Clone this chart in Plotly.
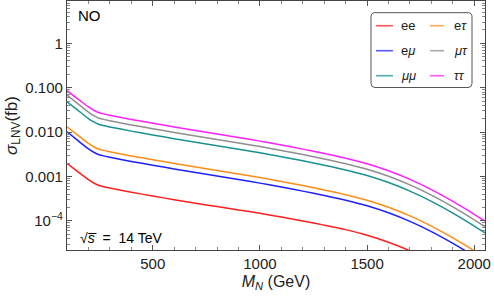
import plotly.graph_objects as go

# ---- data ----
M_N = [100, 150, 200, 225, 250, 275, 300, 400, 500, 600, 700, 800, 900, 1000,
       1100, 1200, 1300, 1400, 1500, 1600, 1700, 1800, 1900, 2000, 2050]

sigma_tautau = [0.08558, 0.05623, 0.03694, 0.03112, 0.02734, 0.02543, 0.02402, 0.01932, 0.01586, 0.01309,
                0.01086, 0.009061, 0.007556, 0.006270, 0.005124, 0.004141, 0.003296, 0.002584, 0.001932,
                0.001344, 0.000860, 0.000507, 0.000275, 0.0001408, 0.0000984]
sigma_mutau = [0.06846, 0.04386, 0.02807, 0.02340, 0.02056, 0.01912, 0.01806, 0.01453, 0.01193, 0.00984,
               0.00817, 0.006814, 0.005682, 0.004715, 0.003853, 0.003114, 0.002479, 0.001943, 0.001453,
               0.001011, 0.000647, 0.000381, 0.000207, 0.0001059, 0.0000740]
sigma_mumu = [0.04835, 0.03126, 0.02024, 0.01696, 0.01490, 0.01386, 0.01309, 0.01053, 0.00864, 0.00713,
              0.00592, 0.004938, 0.004118, 0.003417, 0.002793, 0.002257, 0.001796, 0.001408, 0.001053,
              0.000732, 0.000469, 0.000276, 0.000150, 0.0000767, 0.0000536]
sigma_etau = [0.01323, 0.008558, 0.005567, 0.004690, 0.004120, 0.003832, 0.003620, 0.002912, 0.002390, 0.001973,
              0.001637, 0.001365, 0.001139, 0.000945, 0.000772, 0.000624, 0.000497, 0.000389, 0.000291,
              0.0002025, 0.0001296, 0.0000764, 0.0000414, 0.0000212, 0.0000148]
sigma_emu = [0.01021, 0.006495, 0.004185, 0.003526, 0.003098, 0.002881, 0.002721, 0.002189, 0.001797, 0.001483,
             0.001230, 0.001027, 0.000856, 0.000710, 0.000581, 0.000469, 0.000373, 0.000293, 0.000219,
             0.0001523, 0.0000974, 0.0000574, 0.0000312, 0.0000160, 0.0000111]
sigma_ee = [0.001983, 0.001289, 0.000847, 0.000714, 0.000627, 0.000583, 0.000551, 0.000443, 0.000364, 0.000300,
            0.000249, 0.000210, 0.0001769, 0.0001483, 0.0001225, 0.0001000, 0.0000804, 0.0000637, 0.0000476,
            0.0000331, 0.0000212, 0.0000125, 0.0000068, 0.0000035, 0.0000024]

series_names = ["ee", "e<i>μ</i>", "<i>μμ</i>", "e<i>τ</i>", "<i>μτ</i>", "<i>ττ</i>"]
series_values = [sigma_ee, sigma_emu, sigma_mumu, sigma_etau, sigma_mutau, sigma_tautau]
series_colors = ["#ff1f1f", "#1f1fff", "#1a9191", "#ff8c1a", "#8f8f8f", "#ff1fff"]

y_tickvals = [1e-4, 1e-3, 1e-2, 1e-1, 1]
y_ticktext = ["10<sup>−4</sup>", "0.001", "0.010", "0.100", "1"]
x_tickvals = [500, 1000, 1500, 2000]

FONT = "Liberation Sans, Arial, sans-serif"

fig = go.Figure()
for name, vals, col in zip(series_names, series_values, series_colors):
    fig.add_trace(go.Scatter(x=M_N, y=vals, mode="lines", name=name,
                             line=dict(color=col, width=1.5, shape="spline", smoothing=0.6),
                             showlegend=False))

# ---- legend box drawn manually (two columns) ----
W, H = 418.0, 249.0
def px(x):
    return (x - 67) / W
def py(y):
    return (250 - y) / H

x0, x1, y0, y1 = px(371), px(472), py(12.7), py(87.5)
rx, ry = 4 / W, 4 / H
path = (f"M{x0+rx},{y0} L{x1-rx},{y0} Q{x1},{y0} {x1},{y0-ry} "
        f"L{x1},{y1+ry} Q{x1},{y1} {x1-rx},{y1} L{x0+rx},{y1} Q{x0},{y1} {x0},{y1+ry} "
        f"L{x0},{y0-ry} Q{x0},{y0} {x0+rx},{y0} Z")
shapes = [dict(type="path", path=path, xref="paper", yref="paper",
               line=dict(color="#555555", width=1), fillcolor="white", layer="above")]
annotations = []
rows = [25.7, 50.7, 75.7]
cols = [(376, 393, 399), (430, 444, 452)]
for i, (name, col) in enumerate(zip(series_names, series_colors)):
    c = cols[i // 3]
    r = rows[i % 3]
    shapes.append(dict(type="line", xref="paper", yref="paper", x0=px(c[0]), x1=px(c[1]),
                       y0=py(r), y1=py(r), line=dict(color=col, width=1.6), opacity=0.75,
                       layer="above"))
    annotations.append(dict(text=name, xref="paper", yref="paper", x=px(c[2]), y=py(r),
                            xanchor="left", yanchor="middle", showarrow=False,
                            font=dict(size=13, color="#222", family=FONT)))

annotations.append(dict(text="NO", xref="paper", yref="paper", x=px(76), y=py(15.5),
                        xanchor="left", yanchor="middle", showarrow=False,
                        font=dict(size=15, color="black", family=FONT)))
annotations.append(dict(text="√<i>s\u0305</i>  =  14 TeV",
                        xref="paper", yref="paper", x=px(78), y=py(238),
                        xanchor="left", yanchor="middle", showarrow=False,
                        font=dict(size=14, color="black", family=FONT)))

axis_common = dict(showline=True, linecolor="#444444", linewidth=1.2, mirror="ticks",
                   ticks="inside", ticklen=5, tickcolor="#555555", tickwidth=1,
                   showgrid=False, zeroline=False,
                   tickfont=dict(size=15, color="#222", family=FONT))

fig.update_layout(
    width=494, height=297,
    margin=dict(l=67, r=9, t=1, b=47),
    paper_bgcolor="white", plot_bgcolor="white",
    shapes=shapes, annotations=annotations,
    xaxis=dict(range=[100, 2050], tickmode="array", tickvals=x_tickvals,
               minor=dict(ticks="inside", ticklen=2.5, tickcolor="#888888", dtick=100, tick0=0),
               title=dict(text="<i>M</i><sub><i>N</i></sub> (GeV)", standoff=4,
                          font=dict(size=16, color="#222", family=FONT)),
               **axis_common),
    yaxis=dict(type="log", range=[-4.655, 0.953], tickmode="array",
               tickvals=y_tickvals, ticktext=y_ticktext,
               minor=dict(ticks="inside", ticklen=2.5, tickcolor="#888888", tickmode="array",
                          tickvals=[m * 10.0 ** e for e in range(-5, 1) for m in range(2, 10)]),
               title=dict(text="<i>σ</i><sub>LNV</sub>(fb)", standoff=3,
                          font=dict(size=17, color="#222", family=FONT)),
               **axis_common),
    showlegend=False,
)

fig.write_html("out.html", config={"displayModeBar": False},
               post_script="document.body.style.margin='0';document.body.style.padding='0';"
                           "document.body.style.overflow='hidden';")
